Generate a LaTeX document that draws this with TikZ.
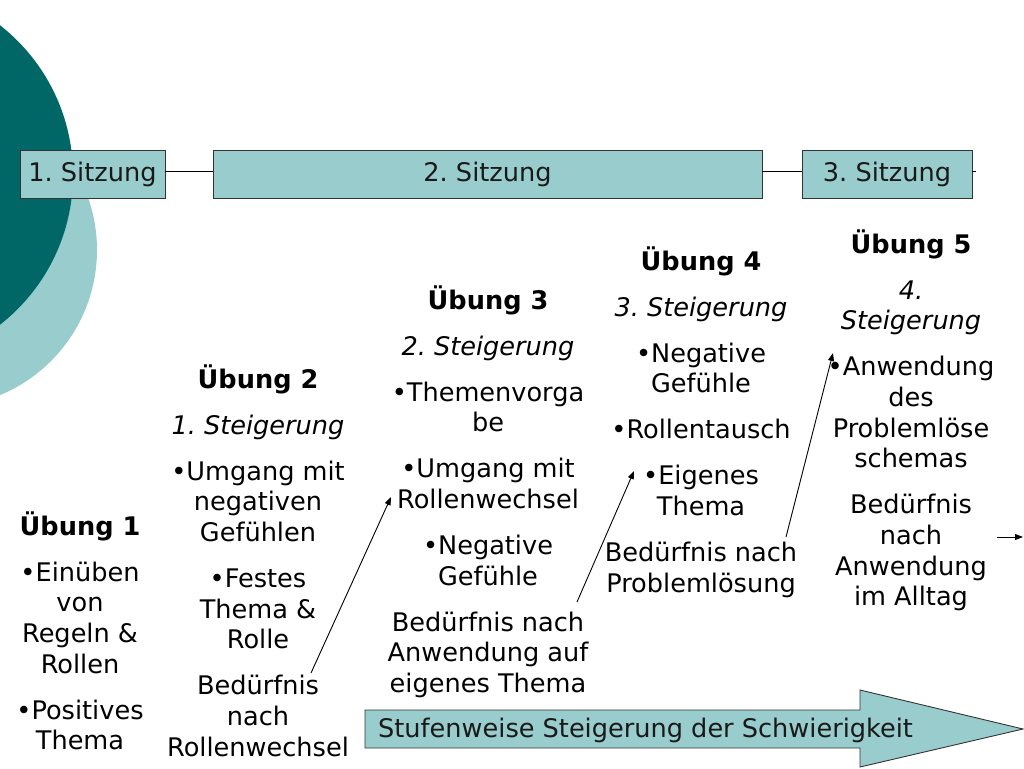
\documentclass[tikz,border=0pt]{standalone}
\usepackage{fontspec}
\setmainfont{DejaVu Sans}
\usetikzlibrary{arrows.meta}
\frenchspacing
\definecolor{teallight}{HTML}{99CCCC}
\definecolor{tealdark}{HTML}{006666}
\definecolor{edge}{HTML}{333333}
\tikzset{
  sitz/.style={draw=edge, line width=0.9pt, fill=teallight, minimum height=48pt, inner sep=0pt, text=black!90},
  txt/.style={anchor=base, inner sep=0pt, text=black},
  link/.style={line width=0.9pt, draw=black},
  arr/.style={line width=0.9pt, draw=black, -{Triangle[length=8pt,width=6pt]}},
}
\begin{document}
\begin{tikzpicture}[x=1pt,y=-1pt, font=\fontsize{25.6}{30.7}\selectfont\frenchspacing]
\useasboundingbox (0,0) rectangle (1024,768);
\begin{scope}
\clip (0,0) rectangle (1024,768);
\fill[teallight] (-60,250) circle[radius=157];
\fill[tealdark] (-117,175) circle[radius=190];
\end{scope}
% session boxes
\node[sitz, minimum width=145pt] (s1) at (92.5,174) {1. Sitzung};
\node[sitz, minimum width=549pt] (s2) at (487.5,174) {2. Sitzung};
\node[sitz, minimum width=170pt] (s3) at (887,174) {3. Sitzung};
\coordinate (s3end) at (976,171);
\draw[link] (s1.east |- 0,171) -- (s2.west |- 0,171);
\draw[link] (s2.east |- 0,171) -- (s3.west |- 0,171);
\draw[link] (s3.east |- 0,171) -- (s3end);
% column 1
\foreach \t/\y [count=\i] in {\textbf{Übung 1}/535, •Einüben/581, von/611.7, Regeln \&/642.4, Rollen/673.1, •Positives/719.1, Thema/749.8}
  \node[txt] (a\i) at (80,\y) {\t};
% column 2
\foreach \t/\y [count=\i] in {\textbf{Übung 2}/388, \textit{1. Steigerung}/434, •Umgang mit/480, negativen/510.7, Gefühlen/541.4, •Festes/587.4, Thema \&/618.1, Rolle/648.8, Bedürfnis/694.8, nach/725.5, Rollenwechsel/756.2}
  \node[txt] (b\i) at (258,\y) {\t};
% column 3
\foreach \t/\y [count=\i] in {\textbf{Übung 3}/309, \textit{2. Steigerung}/355, •Themenvorga/401, be/431.7, •Umgang mit/477.7, Rollenwechsel/508.4, •Negative/554.4, Gefühle/585.1, Bedürfnis nach/631.1, Anwendung auf/661.8, eigenes Thema/692.5}
  \node[txt] (c\i) at (488,\y) {\t};
% column 4
\foreach \t/\y [count=\i] in {\textbf{Übung 4}/270, \textit{3. Steigerung}/316, •Negative/362, Gefühle/392.7, •Rollentausch/438.7, •Eigenes/484.7, Thema/515.4, Bedürfnis nach/561.4, Problemlösung/592.1}
  \node[txt] (d\i) at (701,\y) {\t};
% column 5
\foreach \t/\y [count=\i] in {\textbf{Übung 5}/253, \textit{4.}/299, \textit{Steigerung}/329.7, •Anwendung/375.7, des/406.4, Problemlöse/437.1, schemas/467.8, Bedürfnis/513.8, nach/544.5, Anwendung/575.2, im Alltag/605.9}
  \node[txt] (e\i) at (911,\y) {\t};
% connectors
\coordinate (p1s) at (311,673); \coordinate (p1e) at (391,497);
\coordinate (p2s) at (577,602); \coordinate (p2e) at (634,471);
\coordinate (p3s) at (786,537); \coordinate (p3e) at (833,353);
\coordinate (p4s) at (997,537); \coordinate (p4e) at (1023,537);
\draw[arr] (p1s) -- (p1e);
\draw[arr] (p2s) -- (p2e);
\draw[arr] (p3s) -- (p3e);
\draw[arr] (p4s) -- (p4e);
% big arrow
\draw[draw=edge, line width=0.9pt, fill=teallight] (365,710) -- (860,710) -- (860,690) -- (1023,729) -- (860,767) -- (860,748) -- (365,748) -- cycle;
\node[txt, anchor=base west, text=black!90] (big) at (378,737) {Stufenweise Steigerung der Schwierigkeit};
\end{tikzpicture}
\end{document}
